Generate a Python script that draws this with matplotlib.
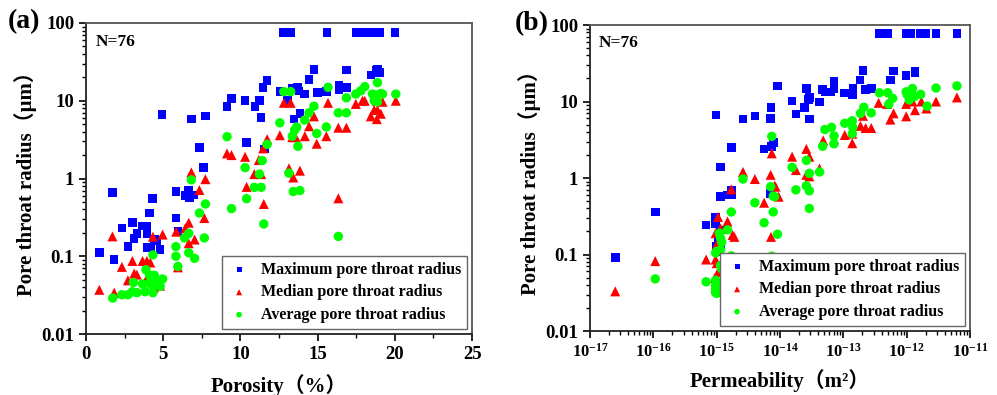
import matplotlib
matplotlib.use("Agg")
import matplotlib.pyplot as plt
import numpy as np

plt.rcParams["font.family"] = ["Liberation Serif", "Noto Sans CJK SC", "DejaVu Sans"]
plt.rcParams["font.weight"] = "bold"

# ---- (a) porosity (%) vs pore throat radius (um) ----
por_max = [0.86, 1.71, 1.82, 2.32, 2.71, 3.0, 3.12, 3.29, 3.66, 3.94, 3.94, 3.94, 4.16, 4.11,
           4.31, 4.42, 4.55, 4.8, 4.92, 5.82, 5.82, 5.95, 6.4, 6.65, 6.69, 6.97, 6.82, 7.34,
           7.62, 7.73, 9.13, 9.42, 10.3, 10.4, 10.93, 11.23, 11.34, 11.45, 11.56, 11.73,
           12.55, 12.8, 13.03, 13.25, 13.36, 13.46, 13.68, 13.79, 13.85, 14.16, 14.44, 14.76,
           14.98, 15.58, 15.6, 16.38, 16.38, 16.86, 16.86, 17.5, 17.9, 18.44, 18.5, 18.77,
           18.87, 18.87, 19.0, 19.05, 20.0]
r_max_a = [0.111, 0.66, 0.091, 0.23, 0.133, 0.27, 0.17, 0.197, 0.245, 0.245, 0.197, 0.13, 0.13,
           0.36, 0.55, 0.164, 0.16, 0.123, 6.6, 0.68, 0.31, 0.207, 0.6, 0.71, 0.57, 0.61, 5.8,
           2.5, 1.39, 6.4, 8.4, 10.7, 10, 2.9, 8.5, 10, 6.05, 14.9, 2.4, 18.1, 13.1, 76, 10,
           76, 14.4, 5.8, 14.9, 13.4, 6.9, 12.2, 18.9, 25.4, 12.7, 13.1, 76, 16, 14, 24.8,
           14.7, 76, 76, 21.4, 76, 24.8, 22.9, 25.4, 76, 22.9, 76]

por_med = [0.86, 1.71, 1.82, 2.32, 2.71, 3.0, 3.12, 3.29, 3.66, 3.94, 4.16, 4.33, 4.96, 4.8,
           4.4, 3.9, 5.84, 5.95, 6.43, 6.65, 6.65, 7.03, 7.66, 7.34, 6.82, 7.73, 9.13, 9.42,
           10.3, 10.4, 10.9, 11.34, 11.19, 11.47, 11.73, 11.51, 12.55, 12.81, 13.25, 13.36,
           13.57, 14.17, 14.44, 14.76, 14.94, 15.56, 15.67, 16.34, 16.86, 16.34, 13.14, 13.85,
           13.42, 17.47, 17.9, 18.05, 18.44, 18.66, 18.83, 18.83, 18.87, 19.09, 19.2, 20.06]
r_med_a = [0.037, 0.18, 0.034, 0.073, 0.049, 0.087, 0.06, 0.058, 0.087, 0.087, 0.083, 0.178,
           0.19, 0.042, 0.04, 0.05, 0.207, 0.072, 0.23, 0.27, 0.147, 0.164, 0.31, 0.71, 1.2,
           0.98, 2.1, 2.0, 1.9, 0.78, 1.14, 1.14, 1.73, 2.44, 3.2, 0.47, 3.6, 9.4, 9.4, 3.4,
           3.4, 3.5, 4.7, 6.3, 2.8, 3.5, 9.4, 4.5, 4.5, 0.556, 1.35, 1.26, 1.03, 9.1, 10, 10,
           6.3, 7.6, 10, 5.8, 7.6, 6.8, 9.7, 10]

por_avg = [1.73, 2.32, 2.71, 3.07, 3.0, 3.29, 3.66, 3.83, 3.88, 4.11, 4.26, 4.42, 4.11, 4.33,
           4.48, 4.8, 4.96, 4.33, 4.33, 5.82, 5.82, 5.95, 6.38, 6.65, 6.65, 7.03, 7.34, 7.66,
           7.73, 6.82, 9.42, 9.13, 10.3, 10.4, 10.9, 11.34, 11.23, 11.41, 11.51, 11.73, 12.55,
           12.81, 13.25, 13.14, 13.36, 13.42, 13.51, 13.64, 13.72, 13.85, 14.16, 14.44, 14.76,
           14.94, 15.56, 15.67, 16.34, 16.34, 16.86, 16.86, 17.47, 17.79, 18.05, 18.55, 18.66,
           18.77, 18.87, 18.87, 19.09, 19.2, 20.06]
r_avg_a = [0.029, 0.032, 0.032, 0.046, 0.035, 0.034, 0.044, 0.035, 0.067, 0.057, 0.05, 0.057,
           0.045, 0.042, 0.051, 0.041, 0.051, 0.034, 0.104, 0.133, 0.1, 0.074, 0.172, 0.197,
           0.111, 0.094, 0.36, 0.172, 0.47, 0.96, 0.41, 3.45, 1.38, 0.55, 0.77, 0.77, 1.14,
           1.7, 0.26, 2.75, 5.2, 13.1, 13.1, 1.17, 3.5, 0.68, 4.2, 4.6, 2.6, 0.7, 5.65, 7.0,
           8.5, 3.8, 4.6, 14.9, 7.0, 0.18, 7.0, 10.9, 12.2, 13.4, 15.2, 12.2, 10, 11.8, 17.1,
           9.7, 12.4, 12.2, 12.2]

# ---- (b) permeability (m2) vs pore throat radius (um) ----
perm_max = [2.5e-17, 1.07e-16, 6.8e-16, 9.5e-16, 9.5e-16, 1.05e-15, 1.0e-15, 1.0e-15, 1.15e-15,
            1.15e-15, 1.15e-15, 1.48e-15, 1.7e-15, 1.7e-15, 9.7e-16, 1.15e-15, 1.7e-15, 2.6e-15,
            4.0e-15, 5.6e-15, 7.4e-15, 7.9e-15, 7.1e-15, 7.2e-15, 7.1e-15, 9.1e-15, 1.55e-14,
            1.78e-14, 2.45e-14, 2.6e-14, 2.8e-14, 2.9e-14, 2.9e-14, 4.2e-14, 4.7e-14, 5.2e-14,
            6.3e-14, 7.1e-14, 7.1e-14, 1.05e-13, 1.38e-13, 1.41e-13, 1.82e-13, 2.04e-13,
            2.24e-13, 2.75e-13, 3.7e-13, 5.0e-13, 5.5e-13, 6.2e-13, 9.8e-13, 9.8e-13, 1.15e-12,
            1.35e-12, 1.35e-12, 1.66e-12, 2.0e-12, 2.9e-12, 6.2e-12]
r_max_b = [0.091, 0.36, 0.243, 0.31, 0.25, 0.153, 0.13, 0.11, 0.21, 0.14, 0.57, 0.6, 0.7, 0.6,
           6.7, 1.4, 2.5, 5.9, 6.45, 2.4, 2.57, 2.9, 6.0, 8.4, 0.63, 16, 10.2, 6.9, 8.4, 14.8,
           10.6, 11.2, 5.9, 9.8, 14.4, 13.4, 13.4, 14.8, 18.2, 13.0, 12.4, 14.8, 19, 25.3,
           14.4, 14.8, 77, 77, 19, 25, 22, 77, 77, 25, 23.5, 77, 77, 77, 77]

perm_med = [2.5e-17, 1.07e-16, 6.8e-16, 9.6e-16, 9.6e-16, 1.0e-15, 1.0e-15, 1.05e-15, 1.05e-15,
            1.15e-15, 1.48e-15, 9.3e-16, 1.2e-15, 1.78e-15, 1.9e-15, 1.7e-15, 2.6e-15, 4.0e-15,
            5.6e-15, 7.1e-15, 7.4e-15, 7.2e-15, 8.5e-15, 9.5e-15, 8.2e-15, 1.55e-14, 1.78e-14,
            2.6e-14, 2.6e-14, 2.9e-14, 2.9e-14, 4.2e-14, 4.8e-14, 7.1e-14, 1.05e-13, 1.38e-13,
            1.38e-13, 1.86e-13, 2.04e-13, 2.24e-13, 2.75e-13, 3.6e-13, 4.9e-13, 5.5e-13,
            6.2e-13, 9.8e-13, 9.8e-13, 1.07e-12, 1.23e-12, 1.35e-12, 1.7e-12, 2.04e-12, 2.9e-12,
            6.2e-12]
r_med_b = [0.033, 0.082, 0.086, 0.19, 0.086, 0.135, 0.077, 0.059, 0.31, 0.22, 0.27, 0.049,
           0.042, 0.18, 0.17, 0.71, 1.2, 0.97, 0.475, 1.1, 2.1, 0.17, 0.77, 0.57, 0.79, 1.9,
           1.27, 2.4, 1.1, 1.9, 1.05, 1.33, 3.1, 3.2, 3.65, 3.8, 2.85, 4.8, 6.5, 4.5, 4.5, 9.6,
           9.3, 5.8, 7.0, 9.3, 6.4, 10.5, 10, 7.7, 10, 8.1, 10, 11.3]

perm_avg = [1.07e-16, 6.8e-16, 9.6e-16, 9.6e-16, 9.6e-16, 9.6e-16, 9.6e-16, 9.6e-16, 1.0e-15,
            1.0e-15, 1.0e-15, 1.15e-15, 1.15e-15, 1.15e-15, 1.15e-15, 1.1e-15, 1.2e-15, 1.2e-15,
            1.48e-15, 1.48e-15, 1.7e-15, 1.7e-15, 1.7e-15, 2.6e-15, 4.0e-15, 5.6e-15, 7.4e-15,
            7.4e-15, 7.1e-15, 7.8e-15, 7.8e-15, 8.2e-15, 9.1e-15, 1.55e-14, 1.78e-14, 2.6e-14,
            2.6e-14, 2.9e-14, 2.9e-14, 2.9e-14, 4.2e-14, 4.7e-14, 5.1e-14, 6.5e-14, 7.1e-14,
            7.1e-14, 1.05e-13, 1.38e-13, 1.38e-13, 1.41e-13, 1.86e-13, 2.1e-13, 2.75e-13,
            3.7e-13, 5.0e-13, 5.2e-13, 6.0e-13, 9.8e-13, 1.02e-12, 1.1e-12, 1.23e-12, 1.32e-12,
            1.66e-12, 2.1e-12, 2.9e-12, 6.2e-12]
r_avg_b = [0.048, 0.044, 0.105, 0.046, 0.033, 0.032, 0.039, 0.036, 0.11, 0.04, 0.031, 0.165,
           0.115, 0.072, 0.033, 0.19, 0.065, 0.145, 0.21, 0.03, 0.36, 0.096, 0.03, 0.97, 0.475,
           0.26, 3.5, 0.095, 0.77, 0.36, 0.58, 0.57, 0.184, 1.38, 0.7, 1.7, 0.79, 1.15, 0.68,
           0.40, 1.2, 2.6, 4.3, 4.6, 3.55, 2.8, 5.2, 5.6, 3.8, 4.6, 7.0, 8.4, 7.1, 13.0, 13.0,
           9.2, 11.0, 13.4, 12.2, 10.5, 14.8, 11.6, 12.4, 8.7, 15, 16]

perm_ticks = [1e-17, 1e-16, 1e-15, 1e-14, 1e-13, 1e-12, 1e-11]
perm_ticklabels = ["10$^{-17}$", "10$^{-16}$", "10$^{-15}$", "10$^{-14}$", "10$^{-13}$",
                   "10$^{-12}$", "10$^{-11}$"]

labels = ["Maximum pore throat radius", "Median pore throat radius", "Average pore throat radius"]
CJK = ["Liberation Serif", "Noto Sans CJK SC"]

plt.rcParams["mathtext.fontset"] = "custom"
plt.rcParams["mathtext.rm"] = "Liberation Serif:bold"
plt.rcParams["mathtext.it"] = "Liberation Serif:bold"
plt.rcParams["mathtext.bf"] = "Liberation Serif:bold"
plt.rcParams["mathtext.default"] = "rm"


def style_axis(ax):
    ax.set_yscale("log")
    ax.set_ylim(0.01, 100)
    ax.set_yticks([0.01, 0.1, 1, 10, 100])
    ax.set_yticklabels(["0.01", "0.1", "1", "10", "100"])
    for side in ["left", "bottom"]:
        ax.spines[side].set_linewidth(1.3)
        ax.spines[side].set_color("#222222")
    for side in ["top", "right"]:
        ax.spines[side].set_linewidth(1.3)
        ax.spines[side].set_color("#555555")
    ax.tick_params(which="major", direction="out", length=5, width=1.2, labelsize=13.5,
                   top=False, right=False)
    ax.tick_params(which="minor", direction="out", length=3, width=1.0, top=False, right=False)
    ax.set_ylabel("Pore throat radius（μm）", fontsize=15, fontweight="bold", family=CJK,
                  labelpad=3)
    ax.text(0.024, 0.94, "N=76", transform=ax.transAxes, fontsize=12.5, fontweight="bold",
            va="center", ha="left")


def draw(ax, xs, ys):
    (xm, xd, xa), (ym, yd, ya) = xs, ys
    ax.scatter(xm, ym, marker="s", s=38, color="#0000ff", edgecolors="none", label=labels[0])
    ax.scatter(xd, yd, marker="^", s=52, color="#ff0000", edgecolors="none", label=labels[1])
    ax.scatter(xa, ya, marker="o", s=46, color="#00ff00", edgecolors="none", label=labels[2])
    leg = ax.legend(loc="lower right", fontsize=11.5, markerscale=0.6, fancybox=False,
                    framealpha=1, edgecolor="#666666", borderaxespad=0.3,
                    handletextpad=0.7, labelspacing=0.4, borderpad=0.4, handlelength=1.3)
    leg.get_frame().set_linewidth(1.0)


fig = plt.figure(figsize=(9.97, 3.95), dpi=100)
ax1 = fig.add_axes([0.0863, 0.1544, 0.3872, 0.7874])
ax2 = fig.add_axes([0.5918, 0.162, 0.3812, 0.7747])

draw(ax1, (por_max, por_med, por_avg), (r_max_a, r_med_a, r_avg_a))
style_axis(ax1)
ax1.set_xlim(0, 25)
ax1.set_xticks([0, 5, 10, 15, 20, 25])
ax1.set_xticks(np.arange(2.5, 25, 5), minor=True)
ax1.set_xlabel("Porosity（%）", fontsize=15, fontweight="bold", family=CJK, labelpad=8)

draw(ax2, (perm_max, perm_med, perm_avg), (r_max_b, r_med_b, r_avg_b))
ax2.set_xscale("log")
style_axis(ax2)
ax2.set_xlim(1e-17, 1e-11)
ax2.set_xticks(perm_ticks)
ax2.set_xticklabels(perm_ticklabels)
minor = [m * d for d in perm_ticks[:-1] for m in range(2, 10)]
ax2.set_xticks(minor, minor=True)
ax2.set_xticklabels([""] * len(minor), minor=True)
ax2.tick_params(axis="x", which="major", labelsize=12)
ax2.set_xlabel("Permeability（m²）", fontsize=15, fontweight="bold", family=CJK, labelpad=6)

fig.text(0.008, 0.945, "(a)", fontsize=20, fontweight="bold", va="center")
fig.text(0.516, 0.94, "(b)", fontsize=20, fontweight="bold", va="center")

fig.savefig("out.png", dpi=100)
